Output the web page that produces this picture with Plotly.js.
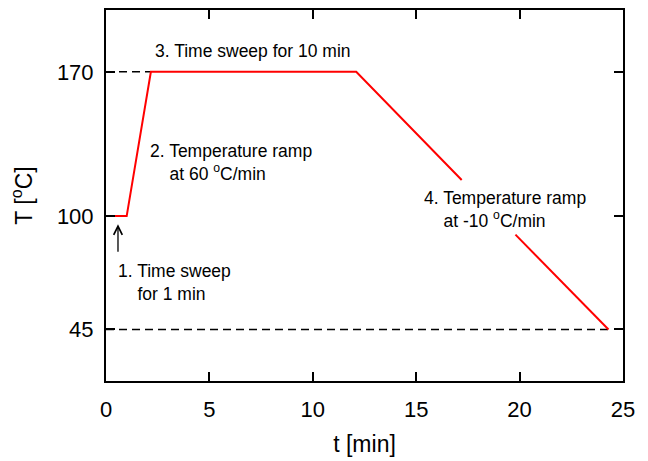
<!DOCTYPE html>
<html>
<head>
<meta charset="utf-8">
<script src="https://cdn.plot.ly/plotly-3.0.1.min.js"></script>
<style>html,body{margin:0;padding:0;background:#fff;}#chart{width:648px;height:461px;}</style>
</head>
<body>
<div id="chart"></div>
<script>
// Temperature profile
const profileT1 = [0, 1, 2.17, 12.1, 17.2];
const profileY1 = [100, 100, 170, 170, 117.5];
const profileT2 = [19.8, 24.3];
const profileY2 = [91, 45];

// Dashed guide lines
const guide170X = [0, 2.17];
const guide170Y = [170, 170];
const guide45X = [0, 24.3];
const guide45Y = [45, 45];

// Axis ticks
const xTicks = [0, 5, 10, 15, 20, 25];
const yTicks = [45, 100, 170];

// Annotation texts and anchors
const INDENT = "&nbsp;&nbsp;&nbsp;&nbsp;";
const labelTexts = [
  "3. Time sweep for 10 min",
  "2. Temperature ramp<br>" + INDENT + "at 60 <sup>o</sup>C/min",
  "4. Temperature ramp<br>" + INDENT + "at -10 <sup>o</sup>C/min",
  "1. Time sweep<br>" + INDENT + "for 1 min"
];
const labelX = [2.27, 2.03, 15.27, 0.48];
const labelY = [180, 126.1, 103.4, 67.7];

// Arrow marking step 1
const arrowX = 0.58;
const arrowTailY = 82;
const arrowHeadY = 96;

const FONT = "Liberation Sans, Arial, sans-serif";

const dashStyle = {color: "#000", width: 1.5, dash: "8px,5px"};
const traces = [
  {x: guide170X, y: guide170Y, mode: "lines", line: dashStyle, hoverinfo: "skip", showlegend: false},
  {x: guide45X, y: guide45Y, mode: "lines", line: dashStyle, hoverinfo: "skip", showlegend: false},
  {x: profileT1, y: profileY1, mode: "lines", line: {color: "#ff0000", width: 2}, showlegend: false, cliponaxis: false},
  {x: profileT2, y: profileY2, mode: "lines", line: {color: "#ff0000", width: 2}, showlegend: false, cliponaxis: false}
];

const annotations = labelTexts.map((t, i) => ({
  x: labelX[i], y: labelY[i], xref: "x", yref: "y",
  text: t, showarrow: false, xanchor: "left", yanchor: "middle", align: "left",
  font: {family: FONT, size: 17.5, color: "#000"}
}));
annotations.push({
  x: arrowX, y: arrowHeadY, ax: arrowX, ay: arrowTailY,
  xref: "x", yref: "y", axref: "x", ayref: "y",
  text: "", showarrow: true, arrowhead: 5, arrowsize: 1.3, arrowwidth: 1.3, arrowcolor: "#000", standoff: 0
});

const axisCommon = {
  showline: true, linecolor: "#000", linewidth: 2, mirror: "ticks",
  ticks: "inside", ticklen: 9, tickwidth: 2, tickcolor: "#000",
  showgrid: false, zeroline: false,
  tickfont: {family: FONT, size: 22, color: "#000"}
};

const layout = {
  width: 648, height: 461,
  margin: {l: 106, r: 25, t: 10, b: 80},
  paper_bgcolor: "#fff", plot_bgcolor: "#fff",
  font: {family: FONT, color: "#000"},
  xaxis: Object.assign({}, axisCommon, {
    range: [0, 25], tickvals: xTicks, ticktext: xTicks.map(String),
    ticklabelstandoff: 8,
    title: {text: "t [min]", font: {family: FONT, size: 23, color: "#000"}, standoff: 14}
  }),
  yaxis: Object.assign({}, axisCommon, {
    range: [20, 200], tickvals: yTicks, ticktext: yTicks.map(String),
    ticklabelstandoff: 6,
    title: {text: "T [<sup>o</sup>C]", font: {family: FONT, size: 23, color: "#000"}, standoff: 18}
  }),
  annotations: annotations
};

Plotly.newPlot("chart", traces, layout, {staticPlot: true, displayModeBar: false});
</script>
</body>
</html>
